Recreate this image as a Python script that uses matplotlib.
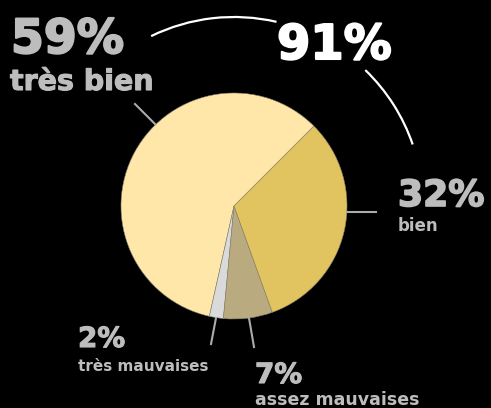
import matplotlib
matplotlib.use('Agg')
import matplotlib.pyplot as plt
import matplotlib.patheffects as pe
from matplotlib.patches import Arc

labels = ['très bien', 'très mauvaises', 'assez mauvaises', 'bien']
values = [59, 2, 7, 32]
colors = ['#FEE7A9', '#DADADA', '#B9AA80', '#E1C35F']
total_label = '91%'

W, H = 491, 408
fig = plt.figure(figsize=(W / 100, H / 100), dpi=100, facecolor='black')
ax = fig.add_axes([0, 0, 1, 1])
ax.set_facecolor('black')

cx, cy, r = 234, 202, 113
ax.pie(values, colors=colors, startangle=45, counterclock=True,
       center=(cx, cy), radius=r, frame=True,
       wedgeprops=dict(edgecolor='#8a8670', linewidth=0.4))
ax.set_xlim(0, W)
ax.set_ylim(0, H)
ax.set_aspect('equal')
ax.axis('off')

# leader lines
lc = '#ABABAB'
ax.plot([135, 155], [304, 284], color=lc, lw=1.5)
ax.plot([347, 376], [196, 196], color=lc, lw=1.5)
ax.plot([216, 211], [90, 64], color=lc, lw=1.5)
ax.plot([249, 254], [90, 61], color=lc, lw=1.5)

# arc around "very good" + "good"
ra = 189
ax.add_patch(Arc((cx, cy), 2 * ra, 2 * ra, theta1=77, theta2=116, color='white', lw=1.6))
ax.add_patch(Arc((cx, cy), 2 * ra, 2 * ra, theta1=19, theta2=46, color='white', lw=1.6))

gray = '#BDBDBD'
fam = 'DejaVu Sans'
def txt(x, y, s, size, color=gray, stroke=0):
    fx = [pe.withStroke(linewidth=stroke, foreground=color)] if stroke else []
    ax.text(x, H - y, s, fontsize=size, color=color, fontfamily=fam,
            fontweight='bold', ha='left', va='baseline', path_effects=fx)

txt(11, 53, f'{values[0]}%', 34, stroke=1.5)
txt(10, 90, labels[0], 20.5, stroke=0.8)
txt(277, 59, total_label, 34.5, color='white', stroke=1.5)
txt(398, 206, f'{values[3]}%', 26, stroke=1.2)
txt(398, 231, labels[3], 12)
txt(78, 347, f'{values[1]}%', 20, stroke=0.8)
txt(78, 371, labels[1], 11)
txt(255, 383, f'{values[2]}%', 20, stroke=0.8)
txt(255, 405, labels[2], 12.5)

fig.savefig('out.png', dpi=100, facecolor='black')
